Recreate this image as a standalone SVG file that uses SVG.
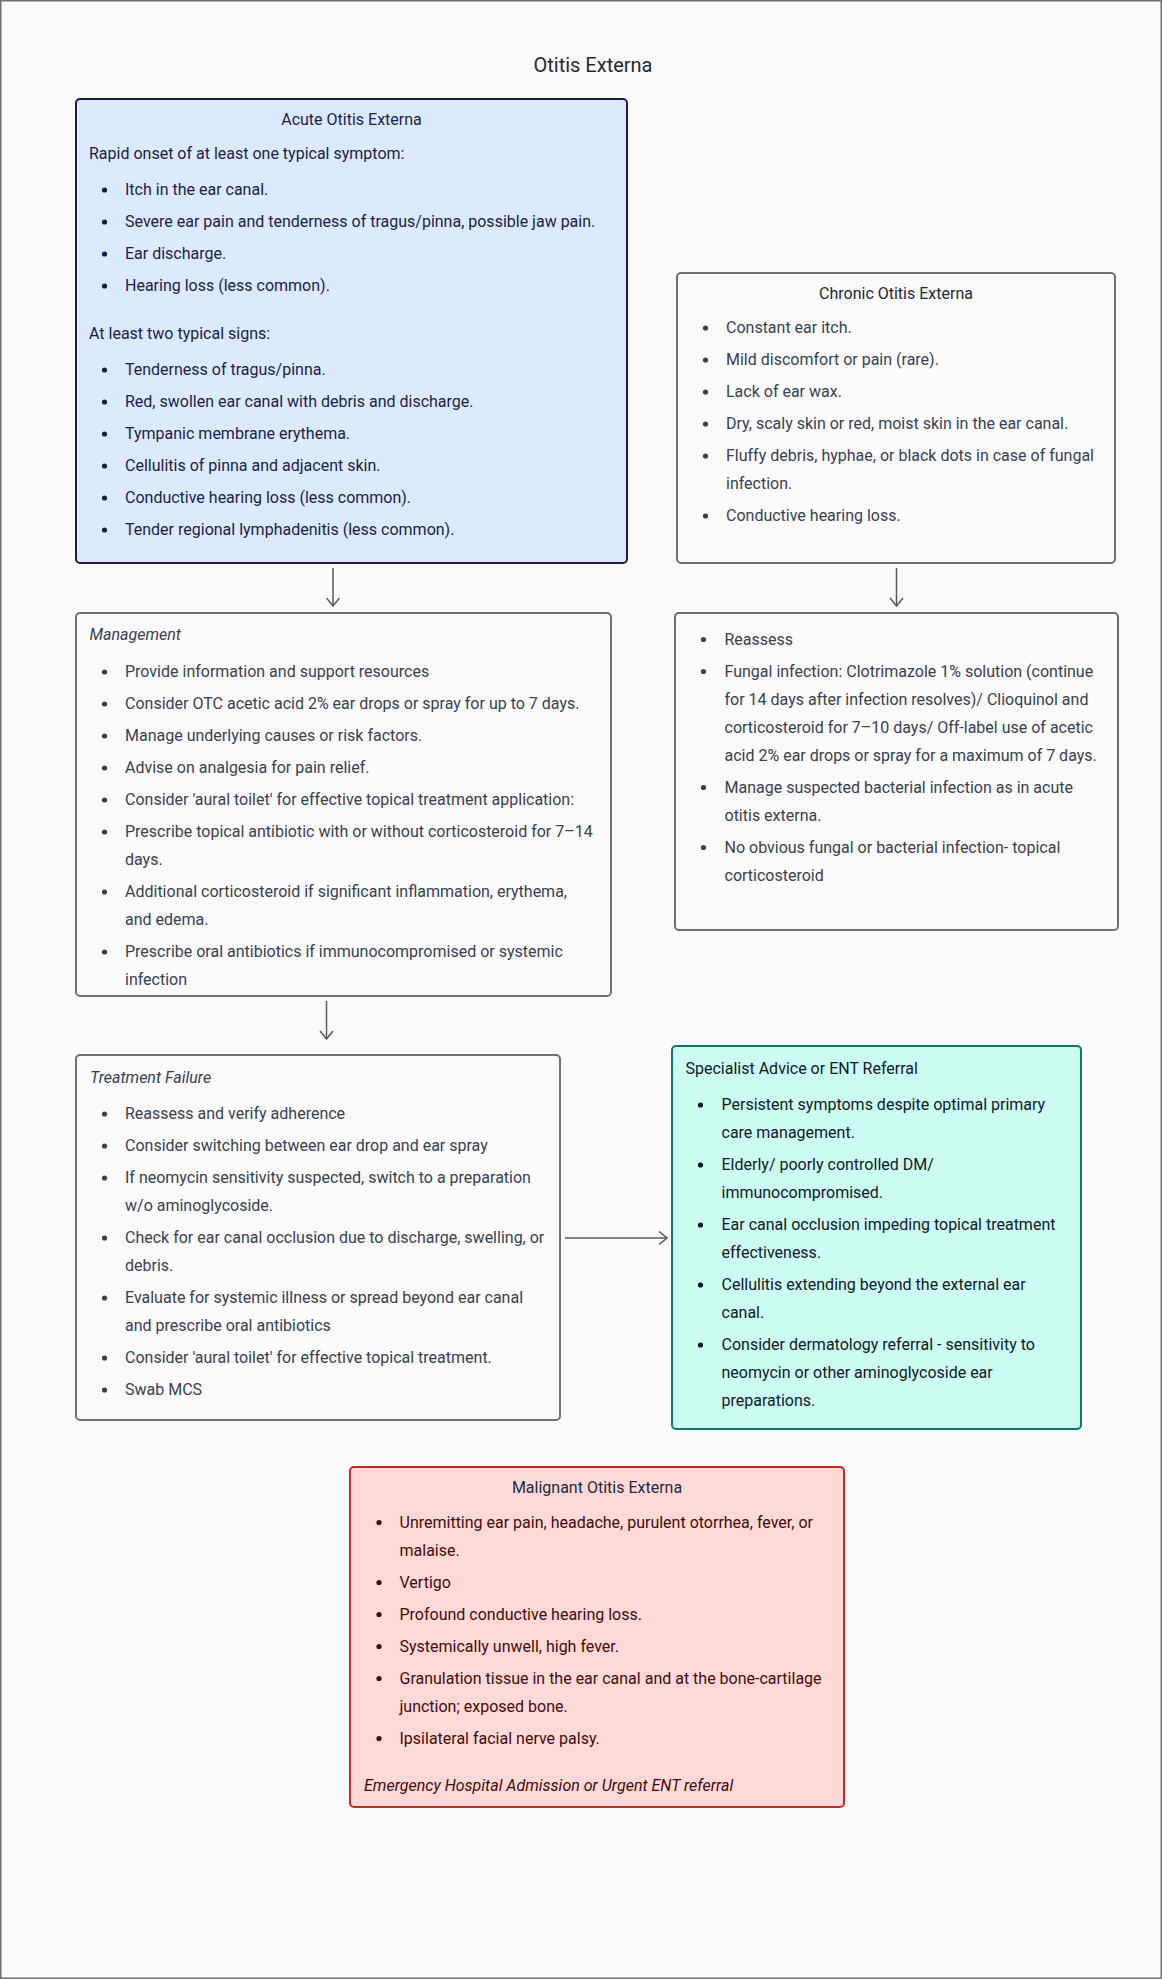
<svg xmlns="http://www.w3.org/2000/svg" width="1162" height="1979" viewBox="0 0 1162 1979">
<defs>
<style>
text{font-family:Roboto,"Liberation Sans",Arial,sans-serif;font-size:16px}
.title{font-size:20px;fill:#1f2937}
.box{stroke-width:2}
.acute{fill:#dbeafe;stroke:#1e1b4b}
.gray{fill:#fafafa;stroke:#6b736f}
.spec{fill:#ccfbf1;stroke:#0f766e}
.mal{fill:#ffd9d7;stroke:#c62828}
.ta{fill:#1e1b4b}
.tg{fill:#374151}
.ts{fill:#111827}
.tm{fill:#450a0a}
.hd{fill:#1f2937}
.it{font-style:italic}
.mid{text-anchor:middle}
.conn{fill:none;stroke:#555b59;stroke-width:1.5}
</style>
<circle id="dot" r="2.6"/>
<marker id="arr" markerUnits="userSpaceOnUse" markerWidth="10" markerHeight="15" viewBox="0 0 10 15" refX="9" refY="7.5" orient="auto">
<path d="M1,1 L9,7.5 L1,14" fill="none" stroke="#555b59" stroke-width="1.5"/>
</marker>
</defs>
<rect x="0" y="0" width="1162" height="1979" fill="#fafafa"/>
<rect x="0.75" y="0.75" width="1160.5" height="1977.5" fill="none" stroke="#6b736f" stroke-width="1.5"/>
<text class="title mid" x="593" y="72">Otitis Externa</text>

<g id="connectors">
<path class="conn" d="M333,568 V606" marker-end="url(#arr)"/>
<path class="conn" d="M896.5,568 V606" marker-end="url(#arr)"/>
<path class="conn" d="M326.5,1001 V1039" marker-end="url(#arr)"/>
<path class="conn" d="M565,1238 H667" marker-end="url(#arr)"/>
</g>

<g id="acute">
<rect class="box acute" x="76" y="99" width="551" height="464" rx="4"/>
<text class="ta mid" x="351.5" y="125">Acute Otitis Externa</text>
<text class="ta" x="89" y="159">Rapid onset of at least one typical symptom:</text>
<g class="ta">
<use href="#dot" x="104.5" y="190"/><text x="125" y="195">Itch in the ear canal.</text>
<use href="#dot" x="104.5" y="222"/><text x="125" y="227">Severe ear pain and tenderness of tragus/pinna, possible jaw pain.</text>
<use href="#dot" x="104.5" y="254"/><text x="125" y="259">Ear discharge.</text>
<use href="#dot" x="104.5" y="286"/><text x="125" y="291">Hearing loss (less common).</text>
</g>
<text class="ta" x="89" y="339">At least two typical signs:</text>
<g class="ta">
<use href="#dot" x="104.5" y="370"/><text x="125" y="375">Tenderness of tragus/pinna.</text>
<use href="#dot" x="104.5" y="402"/><text x="125" y="407">Red, swollen ear canal with debris and discharge.</text>
<use href="#dot" x="104.5" y="434"/><text x="125" y="439">Tympanic membrane erythema.</text>
<use href="#dot" x="104.5" y="466"/><text x="125" y="471">Cellulitis of pinna and adjacent skin.</text>
<use href="#dot" x="104.5" y="498"/><text x="125" y="503">Conductive hearing loss (less common).</text>
<use href="#dot" x="104.5" y="530"/><text x="125" y="535">Tender regional lymphadenitis (less common).</text>
</g>
</g>

<g id="chronic">
<rect class="box gray" x="677" y="273" width="438" height="290" rx="4"/>
<text class="hd mid" x="896" y="299">Chronic Otitis Externa</text>
<g class="tg">
<use href="#dot" x="705.5" y="328"/><text x="726" y="333">Constant ear itch.</text>
<use href="#dot" x="705.5" y="360"/><text x="726" y="365">Mild discomfort or pain (rare).</text>
<use href="#dot" x="705.5" y="392"/><text x="726" y="397">Lack of ear wax.</text>
<use href="#dot" x="705.5" y="424"/><text x="726" y="429">Dry, scaly skin or red, moist skin in the ear canal.</text>
<use href="#dot" x="705.5" y="456"/><text x="726" y="461">Fluffy debris, hyphae, or black dots in case of fungal</text>
<text x="726" y="489">infection.</text>
<use href="#dot" x="705.5" y="516"/><text x="726" y="521">Conductive hearing loss.</text>
</g>
</g>

<g id="management">
<rect class="box gray" x="76" y="613" width="535" height="383" rx="4"/>
<text class="tg it" x="89.5" y="640">Management</text>
<g class="tg">
<use href="#dot" x="104.5" y="672"/><text x="125" y="677">Provide information and support resources</text>
<use href="#dot" x="104.5" y="704"/><text x="125" y="709">Consider OTC acetic acid 2% ear drops or spray for up to 7 days.</text>
<use href="#dot" x="104.5" y="736"/><text x="125" y="741">Manage underlying causes or risk factors.</text>
<use href="#dot" x="104.5" y="768"/><text x="125" y="773">Advise on analgesia for pain relief.</text>
<use href="#dot" x="104.5" y="800"/><text x="125" y="805">Consider 'aural toilet' for effective topical treatment application:</text>
<use href="#dot" x="104.5" y="832"/><text x="125" y="837">Prescribe topical antibiotic with or without corticosteroid for 7–14</text>
<text x="125" y="865">days.</text>
<use href="#dot" x="104.5" y="892"/><text x="125" y="897">Additional corticosteroid if significant inflammation, erythema,</text>
<text x="125" y="925">and edema.</text>
<use href="#dot" x="104.5" y="952"/><text x="125" y="957">Prescribe oral antibiotics if immunocompromised or systemic</text>
<text x="125" y="985">infection</text>
</g>
</g>

<g id="chronic-management">
<rect class="box gray" x="675" y="613" width="443" height="317" rx="4"/>
<g class="tg">
<use href="#dot" x="703.5" y="639.5"/><text x="724.5" y="644.5">Reassess</text>
<use href="#dot" x="703.5" y="671.5"/><text x="724.5" y="676.5">Fungal infection: Clotrimazole 1% solution (continue</text>
<text x="724.5" y="704.5">for 14 days after infection resolves)/ Clioquinol and</text>
<text x="724.5" y="732.5">corticosteroid for 7–10 days/ Off-label use of acetic</text>
<text x="724.5" y="760.5">acid 2% ear drops or spray for a maximum of 7 days.</text>
<use href="#dot" x="703.5" y="787.5"/><text x="724.5" y="792.5">Manage suspected bacterial infection as in acute</text>
<text x="724.5" y="820.5">otitis externa.</text>
<use href="#dot" x="703.5" y="847.5"/><text x="724.5" y="852.5">No obvious fungal or bacterial infection- topical</text>
<text x="724.5" y="880.5">corticosteroid</text>
</g>
</g>

<g id="treatment-failure">
<rect class="box gray" x="76" y="1055" width="484" height="365" rx="4"/>
<text class="tg it" x="90" y="1083">Treatment Failure</text>
<g class="tg">
<use href="#dot" x="104.5" y="1114"/><text x="125" y="1119">Reassess and verify adherence</text>
<use href="#dot" x="104.5" y="1146"/><text x="125" y="1151">Consider switching between ear drop and ear spray</text>
<use href="#dot" x="104.5" y="1178"/><text x="125" y="1183">If neomycin sensitivity suspected, switch to a preparation</text>
<text x="125" y="1211">w/o aminoglycoside.</text>
<use href="#dot" x="104.5" y="1238"/><text x="125" y="1243">Check for ear canal occlusion due to discharge, swelling, or</text>
<text x="125" y="1271">debris.</text>
<use href="#dot" x="104.5" y="1298"/><text x="125" y="1303">Evaluate for systemic illness or spread beyond ear canal</text>
<text x="125" y="1331">and prescribe oral antibiotics</text>
<use href="#dot" x="104.5" y="1358"/><text x="125" y="1363">Consider 'aural toilet' for effective topical treatment.</text>
<use href="#dot" x="104.5" y="1390"/><text x="125" y="1395">Swab MCS</text>
</g>
</g>

<g id="specialist">
<rect class="box spec" x="672" y="1046" width="409" height="383" rx="4"/>
<text class="ts" x="685.5" y="1073.5">Specialist Advice or ENT Referral</text>
<g class="ts">
<use href="#dot" x="700.5" y="1105"/><text x="721.5" y="1110">Persistent symptoms despite optimal primary</text>
<text x="721.5" y="1138">care management.</text>
<use href="#dot" x="700.5" y="1165"/><text x="721.5" y="1170">Elderly/ poorly controlled DM/</text>
<text x="721.5" y="1198">immunocompromised.</text>
<use href="#dot" x="700.5" y="1225"/><text x="721.5" y="1230">Ear canal occlusion impeding topical treatment</text>
<text x="721.5" y="1258">effectiveness.</text>
<use href="#dot" x="700.5" y="1285"/><text x="721.5" y="1290">Cellulitis extending beyond the external ear</text>
<text x="721.5" y="1318">canal.</text>
<use href="#dot" x="700.5" y="1345"/><text x="721.5" y="1350">Consider dermatology referral - sensitivity to</text>
<text x="721.5" y="1378">neomycin or other aminoglycoside ear</text>
<text x="721.5" y="1406">preparations.</text>
</g>
</g>

<g id="malignant">
<rect class="box mal" x="350" y="1467" width="494" height="340" rx="4"/>
<text class="hd mid" x="597" y="1493">Malignant Otitis Externa</text>
<g class="tm">
<use href="#dot" x="379" y="1522.5"/><text x="399.5" y="1527.5">Unremitting ear pain, headache, purulent otorrhea, fever, or</text>
<text x="399.5" y="1555.5">malaise.</text>
<use href="#dot" x="379" y="1582.5"/><text x="399.5" y="1587.5">Vertigo</text>
<use href="#dot" x="379" y="1614.5"/><text x="399.5" y="1619.5">Profound conductive hearing loss.</text>
<use href="#dot" x="379" y="1646.5"/><text x="399.5" y="1651.5">Systemically unwell, high fever.</text>
<use href="#dot" x="379" y="1678.5"/><text x="399.5" y="1683.5">Granulation tissue in the ear canal and at the bone-cartilage</text>
<text x="399.5" y="1711.5">junction; exposed bone.</text>
<use href="#dot" x="379" y="1738.5"/><text x="399.5" y="1743.5">Ipsilateral facial nerve palsy.</text>
</g>
<text class="tm it" x="364" y="1791">Emergency Hospital Admission or Urgent ENT referral</text>
</g>
</svg>
